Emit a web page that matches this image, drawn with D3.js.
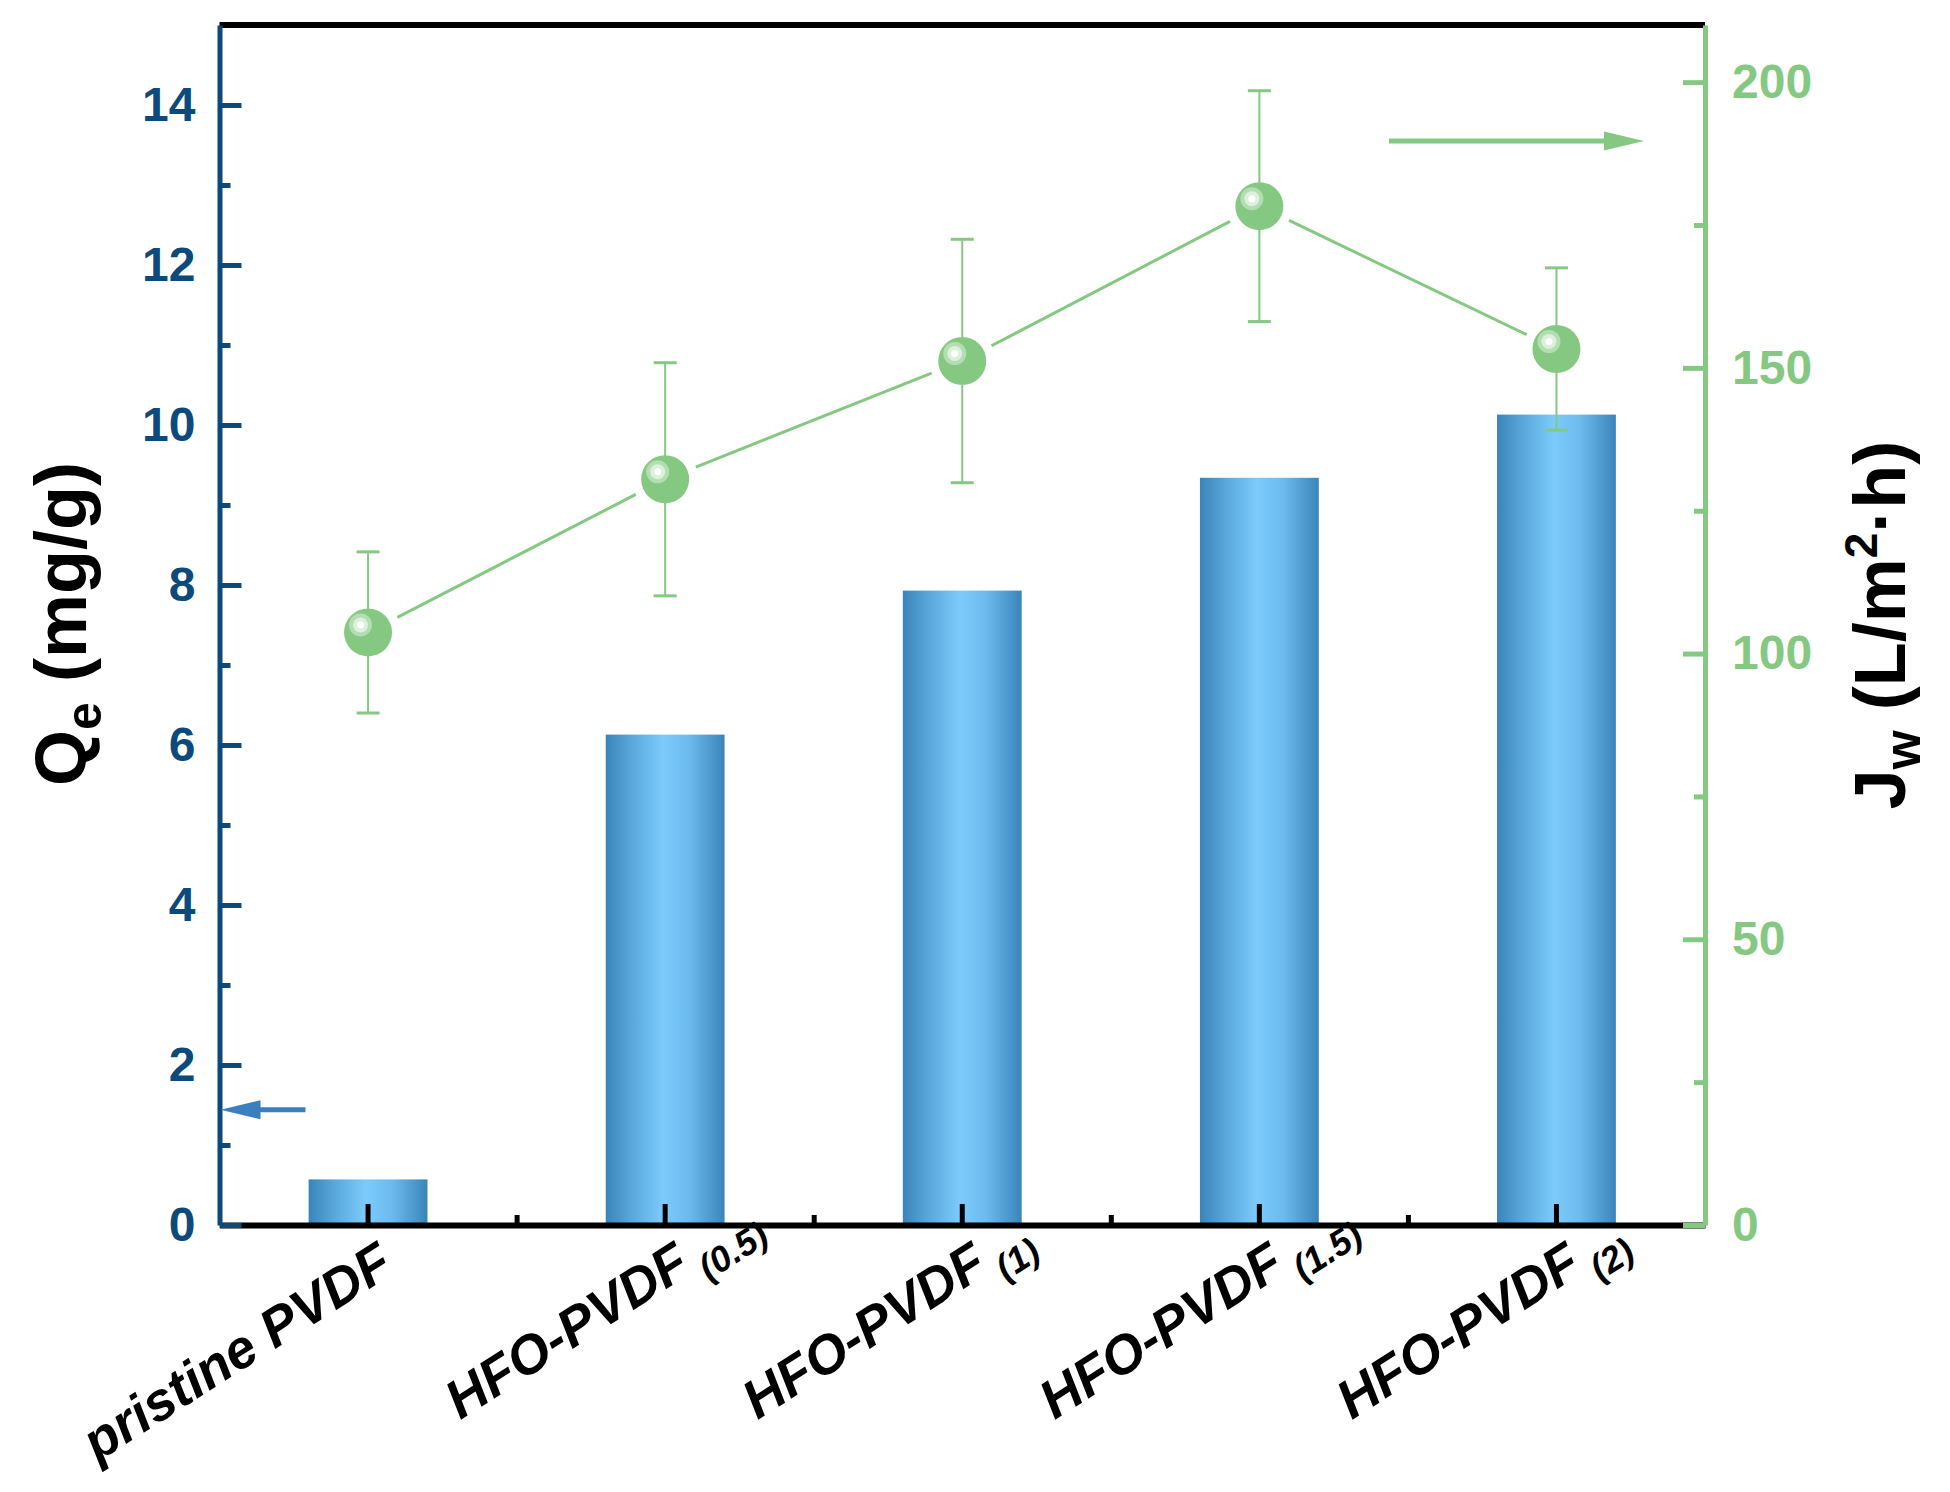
<!DOCTYPE html>
<html>
<head>
<meta charset="utf-8">
<script src="https://cdn.jsdelivr.net/npm/d3@7"></script>
<style>
  html, body { margin: 0; padding: 0; background: #ffffff; }
  svg { display: block; font-family: "Liberation Sans", Arial, Helvetica, sans-serif; }
</style>
</head>
<body>
<svg id="chart" width="1950" height="1492"></svg>
<script>
// ---------------- data ----------------
const categories = ["pristine PVDF", "HFO-PVDF", "HFO-PVDF", "HFO-PVDF", "HFO-PVDF"];
const categorySubs = ["", "(0.5)", "(1)", "(1.5)", "(2)"];
const qeValues = [0.57, 6.13, 7.93, 9.34, 10.13];          // bars, left axis (mg/g)
const jwValues = [103.7, 130.5, 151.2, 178.3, 153.3];      // points, right axis
const jwErrors = [14.1, 20.4, 21.3, 20.2, 14.2];
const leftTicks = [0, 2, 4, 6, 8, 10, 12, 14];
const leftMinorTicks = [1, 3, 5, 7, 9, 11, 13];
const rightTicks = [0, 50, 100, 150, 200];
const rightMinorTicks = [25, 75, 125, 175];
const leftArrowValue = 1.44;   // Qe level of the left-pointing arrow
const rightArrowValue = 189.7; // Jw level of the right-pointing arrow

// ---------------- layout ----------------
const W = 1950, H = 1492;
const x0 = 219.5, x1 = 1705, yTop = 25, yBot = 1225;
const blue = "#0b4a7b", green = "#85c882", arrowBlue = "#3b7fbe";

const svg = d3.select("#chart");
svg.append("rect").attr("width", W).attr("height", H).attr("fill", "#fff");

const x = d3.scaleBand().domain(d3.range(categories.length)).range([x0, x1]).padding(0);
const xIdx = d3.scaleLinear().domain([0, categories.length]).range([x0, x1]);
const yL = d3.scaleLinear().domain([0, 15]).range([yBot, yTop]);
const yR = d3.scaleLinear().domain([0, 210]).range([yBot, yTop]);
const barW = x.bandwidth() * 0.4;
const cx = i => x(i) + x.bandwidth() / 2;

// gradient for bars
const defs = svg.append("defs");
const grad = defs.append("linearGradient").attr("id", "barGrad")
  .attr("x1", "0%").attr("x2", "100%").attr("y1", "0%").attr("y2", "0%");
grad.append("stop").attr("offset", "0%").attr("stop-color", "#3a84ba");
grad.append("stop").attr("offset", "22%").attr("stop-color", "#5aa8db");
grad.append("stop").attr("offset", "48%").attr("stop-color", "#7ccbfc");
grad.append("stop").attr("offset", "70%").attr("stop-color", "#6dbbee");
grad.append("stop").attr("offset", "100%").attr("stop-color", "#3a84ba");

// bars
svg.append("g").selectAll("rect").data(qeValues).join("rect")
  .attr("x", (d, i) => cx(i) - barW / 2)
  .attr("y", d => yL(d))
  .attr("width", barW)
  .attr("height", d => yL(0) - yL(d))
  .attr("fill", "url(#barGrad)");

// top frame
svg.append("line").attr("x1", x0).attr("x2", x1).attr("y1", yTop).attr("y2", yTop)
  .attr("stroke", "#000").attr("stroke-width", 6);

// bottom axis (black), ticks pointing inside
const gx = svg.append("g").attr("transform", `translate(0,${yBot})`)
  .call(d3.axisBottom(x).tickSize(-21).tickSizeOuter(0).tickFormat(""));
gx.select(".domain").attr("stroke", "#000").attr("stroke-width", 6);
gx.selectAll(".tick line").attr("stroke", "#000").attr("stroke-width", 5);
const gxm = svg.append("g").attr("transform", `translate(0,${yBot})`)
  .call(d3.axisBottom(xIdx).tickValues([1, 2, 3, 4]).tickSize(-10).tickFormat(""));
gxm.select(".domain").remove();
gxm.selectAll(".tick line").attr("stroke", "#000").attr("stroke-width", 5);

// left axis
const gyl = svg.append("g").attr("transform", `translate(${x0},0)`)
  .call(d3.axisLeft(yL).tickValues(leftTicks).tickSize(-22).tickSizeOuter(0).tickPadding(24));
gyl.select(".domain").attr("stroke", blue).attr("stroke-width", 5);
gyl.selectAll(".tick line").attr("stroke", blue).attr("stroke-width", 5);
gyl.selectAll(".tick text").attr("fill", blue).attr("font-size", 48).attr("font-weight", "bold");
const gylm = svg.append("g").attr("transform", `translate(${x0},0)`)
  .call(d3.axisLeft(yL).tickValues(leftMinorTicks).tickSize(-11).tickFormat(""));
gylm.select(".domain").remove();
gylm.selectAll(".tick line").attr("stroke", blue).attr("stroke-width", 5);

// right axis
const gyr = svg.append("g").attr("transform", `translate(${x1},0)`)
  .call(d3.axisRight(yR).tickValues(rightTicks).tickSize(-22).tickSizeOuter(0).tickPadding(27));
gyr.select(".domain").attr("stroke", green).attr("stroke-width", 5);
gyr.selectAll(".tick line").attr("stroke", green).attr("stroke-width", 5);
gyr.selectAll(".tick text").attr("fill", green).attr("font-size", 48).attr("font-weight", "bold");
const gyrm = svg.append("g").attr("transform", `translate(${x1},0)`)
  .call(d3.axisRight(yR).tickValues(rightMinorTicks).tickSize(-11).tickFormat(""));
gyrm.select(".domain").remove();
gyrm.selectAll(".tick line").attr("stroke", green).attr("stroke-width", 5);

// error bars
const capW = 23;
const eg = svg.append("g").attr("stroke", green);
jwValues.forEach((v, i) => {
  const xc = cx(i);
  eg.append("line").attr("x1", xc).attr("x2", xc)
    .attr("y1", yR(v + jwErrors[i])).attr("y2", yR(v - jwErrors[i])).attr("stroke-width", 2);
  [v + jwErrors[i], v - jwErrors[i]].forEach(e => {
    eg.append("line").attr("x1", xc - capW / 2).attr("x2", xc + capW / 2)
      .attr("y1", yR(e)).attr("y2", yR(e)).attr("stroke-width", 3);
  });
});

// connecting line segments with gaps around markers
const gap = 33;
const lg = svg.append("g").attr("stroke", green).attr("stroke-width", 3);
for (let i = 0; i < jwValues.length - 1; i++) {
  const ax = cx(i), ay = yR(jwValues[i]), bx = cx(i + 1), by = yR(jwValues[i + 1]);
  const L = Math.hypot(bx - ax, by - ay), ux = (bx - ax) / L, uy = (by - ay) / L;
  lg.append("line")
    .attr("x1", ax + ux * gap).attr("y1", ay + uy * gap)
    .attr("x2", bx - ux * gap).attr("y2", by - uy * gap);
}

// markers (glossy spheres)
const mg = svg.append("g");
jwValues.forEach((v, i) => {
  const px = cx(i), py = yR(v);
  mg.append("circle").attr("cx", px).attr("cy", py).attr("r", 24).attr("fill", green);
  mg.append("circle").attr("cx", px - 7.5).attr("cy", py - 7.5).attr("r", 11.5).attr("fill", "#b3deb1");
  mg.append("circle").attr("cx", px - 7.5).attr("cy", py - 7.5).attr("r", 7.5).attr("fill", "#dcf0db");
  mg.append("circle").attr("cx", px - 7.5).attr("cy", py - 7.5).attr("r", 3.5).attr("fill", "#ffffff");
});

// arrows
function arrow(xTail, xTip, y, color) {
  const dir = Math.sign(xTip - xTail);
  const headL = 40, headHW = 9.5;
  svg.append("line").attr("x1", xTail).attr("x2", xTip - dir * headL * 0.8).attr("y1", y).attr("y2", y)
    .attr("stroke", color).attr("stroke-width", 5);
  svg.append("path")
    .attr("d", `M${xTip},${y} L${xTip - dir * headL},${y - headHW} L${xTip - dir * headL},${y + headHW} Z`)
    .attr("fill", color);
}
arrow(x0 + 86, x0 + 1, yL(leftArrowValue), arrowBlue);
arrow(x1 - 316, x1 - 61, yR(rightArrowValue), green);

// category labels (rotated, italic bold)
const lab = svg.append("g");
categories.forEach((c, i) => {
  const g = lab.append("g").attr("transform", `translate(${cx(i) + 28},${1272}) rotate(-32.5)`);
  const t = g.append("text").attr("font-size", 54).attr("font-weight", "bold")
    .attr("font-style", "italic").attr("fill", "#000").attr("text-anchor", "start");
  const main = t.append("tspan").text(c);
  if (categorySubs[i]) {
    t.append("tspan").attr("font-size", 36).attr("dx", 8).attr("dy", 16).text(categorySubs[i]);
  }
  const mw = main.node().getComputedTextLength();
  t.attr("x", -mw);
});

// axis titles
const tl = svg.append("text").attr("transform", "translate(86,624) rotate(-90)")
  .attr("text-anchor", "middle").attr("font-size", 72).attr("font-weight", "bold").attr("fill", "#000");
tl.append("tspan").text("Q");
tl.append("tspan").attr("font-size", 50).attr("dy", 15).text("e");
tl.append("tspan").attr("dy", -15).text(" (mg/g)");

const tr = svg.append("text").attr("transform", "translate(1905,625) rotate(-90)")
  .attr("text-anchor", "middle").attr("font-size", 72).attr("font-weight", "bold").attr("fill", "#000");
tr.append("tspan").text("J");
tr.append("tspan").attr("font-size", 50).attr("dy", 15).text("w");
tr.append("tspan").attr("dy", -15).text(" (L/m");
tr.append("tspan").attr("font-size", 46).attr("dy", -28).text("2");
tr.append("tspan").attr("dy", 28).text("·h)");
</script>
</body>
</html>
